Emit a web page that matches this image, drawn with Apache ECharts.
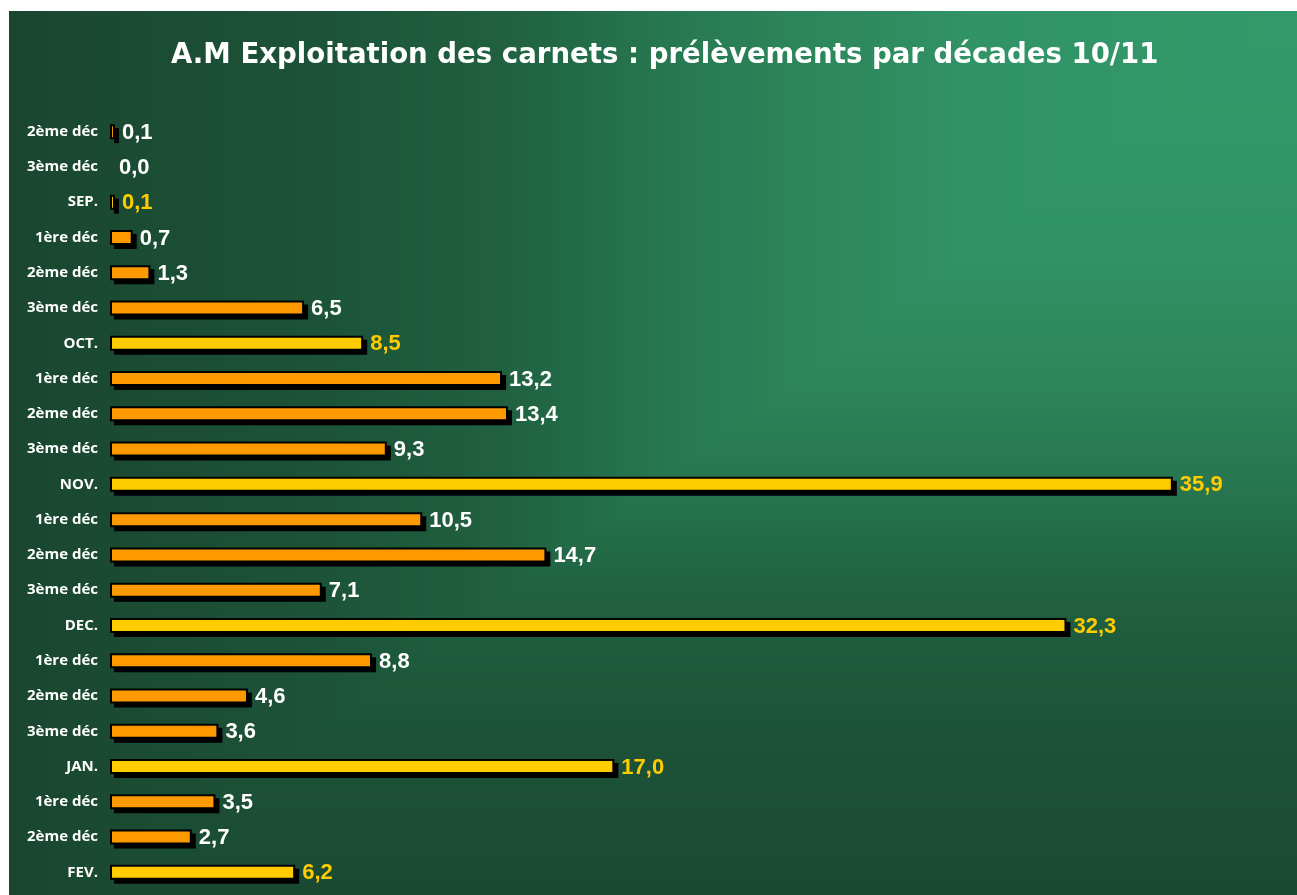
<!DOCTYPE html>
<html>
<head>
<meta charset="utf-8">
<script src="https://cdn.jsdelivr.net/npm/echarts@6/dist/echarts.min.js"></script>
<style>
  html, body { margin: 0; padding: 0; background: #fff; }
  #chart { position: absolute; left: 9px; top: 11px; width: 1288px; height: 884px; }
</style>
</head>
<body>
<div id="chart"></div>
<script>
// décades et mois, de haut en bas
const categories = [
  '2ème déc', '3ème déc', 'SEP.',
  '1ère déc', '2ème déc', '3ème déc', 'OCT.',
  '1ère déc', '2ème déc', '3ème déc', 'NOV.',
  '1ère déc', '2ème déc', '3ème déc', 'DEC.',
  '1ère déc', '2ème déc', '3ème déc', 'JAN.',
  '1ère déc', '2ème déc', 'FEV.'
];
const values = [
  0.1, 0.0, 0.1,
  0.7, 1.3, 6.5, 8.5,
  13.2, 13.4, 9.3, 35.9,
  10.5, 14.7, 7.1, 32.3,
  8.8, 4.6, 3.6, 17.0,
  3.5, 2.7, 6.2
];
// les totaux mensuels sont en jaune
const isMonth = categories.map(c => c.endsWith('.'));

const orange = '#ff9900';
const yellow = '#ffcc00';

// fond : dégradé "depuis le coin" (haut droit), comme dans Excel
function paintBackground(el) {
  const W = el.clientWidth, H = el.clientHeight;
  const cv = document.createElement('canvas');
  cv.width = W; cv.height = H;
  const ctx = cv.getContext('2d');
  const img = ctx.createImageData(W, H);
  const stops = [
    [0, [0x34, 0x99, 0x6a]],
    [0.25, [0x31, 0x93, 0x66]],
    [0.4, [0x2c, 0x84, 0x58]],
    [0.5, [0x26, 0x76, 0x50]],
    [0.62, [0x20, 0x60, 0x40]],
    [0.77, [0x1c, 0x52, 0x38]],
    [1, [0x1a, 0x46, 0x30]]
  ];
  for (let y = 0; y < H; y++) {
    for (let x = 0; x < W; x++) {
      let t = Math.max((W - x) / W, y / 950);
      t = Math.min(1, t);
      let k = 1;
      while (k < stops.length - 1 && stops[k][0] < t) k++;
      const [t0, c0] = stops[k - 1];
      const [t1, c1] = stops[k];
      const f = (t - t0) / (t1 - t0);
      const p = (y * W + x) * 4;
      img.data[p] = c0[0] + (c1[0] - c0[0]) * f;
      img.data[p + 1] = c0[1] + (c1[1] - c0[1]) * f;
      img.data[p + 2] = c0[2] + (c1[2] - c0[2]) * f;
      img.data[p + 3] = 255;
    }
  }
  ctx.putImageData(img, 0, 0);
  el.style.backgroundImage = 'url(' + cv.toDataURL() + ')';
}

const chartEl = document.getElementById('chart');
paintBackground(chartEl);
const chart = echarts.init(chartEl);

// barre avec bordure noire + ombre portée, puis l'étiquette
function renderBar(params, api) {
  const v = api.value(0);
  const idx = api.value(1);
  const start = api.coord([0, idx]);
  const end = api.coord([v, idx]);
  const h = 13;
  const w = end[0] - start[0];
  const y0 = start[1] - h / 2;
  const month = isMonth[idx];
  const children = [];

  if (v > 0) {
    children.push({
      type: 'rect',
      shape: { x: start[0] + 3, y: y0 + 3, width: w + 2, height: h + 2 },
      style: { fill: '#000000' }
    });
    children.push({
      type: 'rect',
      shape: { x: start[0], y: y0, width: w, height: h },
      style: { fill: month ? yellow : orange, stroke: '#000000', lineWidth: 2 }
    });
  }

  children.push({
    type: 'text',
    x: end[0] + 8,
    y: start[1] + 1,
    style: {
      text: v.toFixed(1).replace('.', ','),
      fill: month ? yellow : '#ffffff',
      font: 'bold 22px "Liberation Sans", Arial, sans-serif',
      verticalAlign: 'middle',
      textVerticalAlign: 'middle'
    }
  });

  return { type: 'group', children };
}

const option = {
  animation: false,
  backgroundColor: 'transparent',
  title: {
    text: 'A.M Exploitation des carnets : prélèvements par décades 10/11',
    left: 157,
    top: 26,
    textStyle: {
      color: '#ffffff',
      fontFamily: 'DejaVu Sans',
      fontWeight: 'bold',
      fontSize: 27.6
    }
  },
  grid: {
    left: 102,
    top: 103,
    height: 776,
    width: 1182
  },
  xAxis: {
    type: 'value',
    min: 0,
    max: 40,
    show: false
  },
  yAxis: {
    type: 'category',
    data: categories,
    inverse: true,
    axisLine: { show: false },
    axisTick: { show: false },
    splitLine: { show: false },
    axisLabel: {
      margin: 13,
      color: '#ffffff',
      fontFamily: 'Open Sans',
      fontWeight: 'bold',
      fontSize: 15
    }
  },
  series: [
    {
      type: 'custom',
      renderItem: renderBar,
      encode: { x: 0, y: 1 },
      clip: false,
      data: values.map((v, i) => [v, i])
    }
  ]
};

option && chart.setOption(option);
</script>
</body>
</html>
